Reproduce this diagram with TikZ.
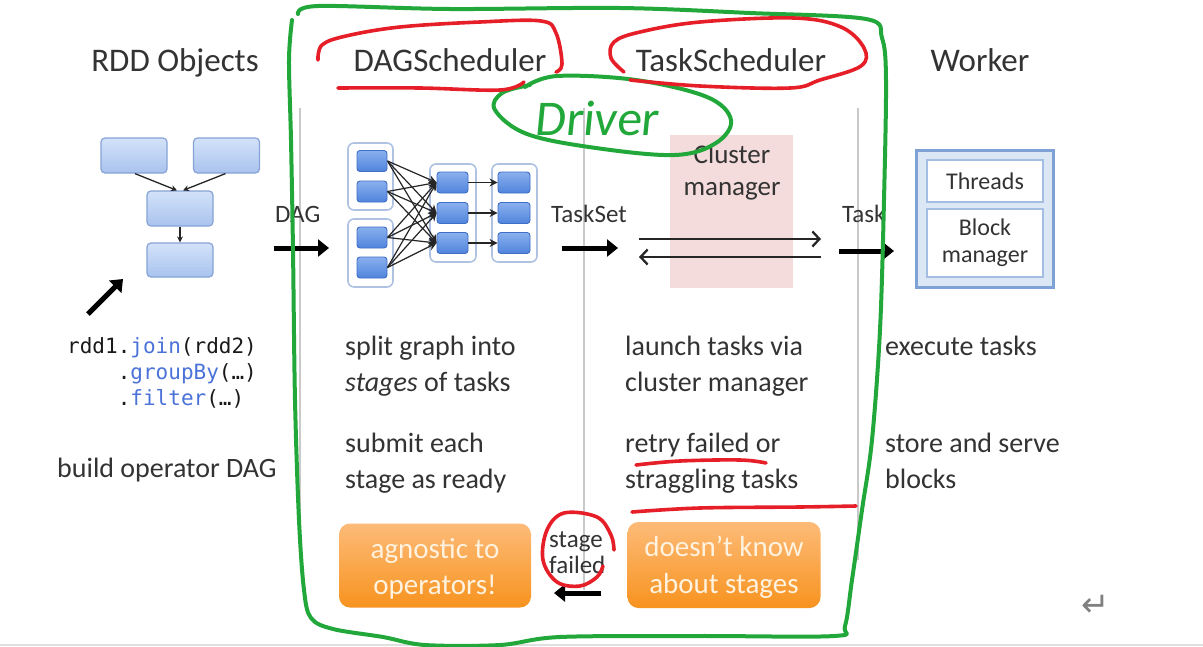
\documentclass[tikz,border=0pt]{standalone}
\usepackage{fontspec}
\setmainfont{Carlito}
\newfontfamily\codefont{DejaVu Sans Mono}
\newfontfamily\symfont{DejaVu Sans}
\usetikzlibrary{arrows.meta}
\definecolor{txt}{HTML}{333333}
\definecolor{sepgray}{HTML}{C9C9C9}
\definecolor{rddtop}{HTML}{D3E2F9}
\definecolor{rddbot}{HTML}{A9C3EE}
\definecolor{rddborder}{HTML}{86A3D6}
\definecolor{dtop}{HTML}{8AB0EE}
\definecolor{dbot}{HTML}{4F84DC}
\definecolor{dborder}{HTML}{3E6EC6}
\definecolor{grpborder}{HTML}{AFC2E2}
\definecolor{codeblue}{HTML}{4B72D9}
\definecolor{pinkbox}{HTML}{F4DCDC}
\definecolor{wfill}{HTML}{DCE7F5}
\definecolor{wborder}{HTML}{7FA2D6}
\definecolor{winner}{HTML}{A3BDE3}
\definecolor{otop}{HTML}{FDBB78}
\definecolor{obot}{HTML}{F7931F}
\definecolor{otext}{HTML}{FFF2DF}
\definecolor{gpen}{HTML}{22A83A}
\definecolor{rpen}{HTML}{E61E28}
\begin{document}
\begin{tikzpicture}[x=1pt,y=-1pt,
  title/.style={font=\fontsize{33}{38}\selectfont, text=txt, anchor=base, inner sep=0},
  body/.style={font=\fontsize{28}{32}\selectfont, text=txt, anchor=base west, inner sep=0},
  lbl/.style={font=\fontsize{25}{28}\selectfont, text=txt, anchor=base west, inner sep=0},
  code/.style={font=\codefont\fontsize{21}{24}\selectfont, text=black!90, anchor=base west, inner sep=0},
  rddbox/.style={draw=rddborder, line width=1.2, rounded corners=4, top color=rddtop, bottom color=rddbot, inner sep=0, minimum width=66, minimum height=35},
  grp/.style={draw=grpborder, line width=1.6, rounded corners=6, fill=white, inner sep=0},
  dbox/.style={draw=dborder, line width=0.9, rounded corners=3, top color=dtop, bottom color=dbot, inner sep=0, minimum width=30, minimum height=21},
  small/.style={-{Stealth[length=6,width=6]}, line width=1.3, draw=black!85},
  dagarrow/.style={-{Stealth[length=8,width=8]}, line width=1.2, draw=black!85},
  thick/.style={-{Triangle[length=11,width=17]}, line width=5, draw=black},
  thin/.style={-{Straight Barb[length=7,width=15]}, line width=2.3, draw=black!85},
  sep/.style={draw=sepgray, line width=2.5},
  obox/.style={rounded corners=11, top color=otop, bottom color=obot, inner sep=0, draw=none},
  otxt/.style={font=\fontsize{29}{34}\selectfont, text=otext, anchor=base, inner sep=0},
  gline/.style={draw=gpen, line width=4, line cap=round, line join=round},
  rline/.style={draw=rpen, line width=3.6, line cap=round, line join=round}
]
\useasboundingbox (0,0) rectangle (1203,646);
\fill[white] (0,0) rectangle (1203,646);
\draw[draw=black!12, line width=1.5] (0,645) -- (1203,645);

% titles
\node[title] (t1) at (175,71) {RDD Objects};
\node[title] (t2) at (450,71) {DAGScheduler};
\node[title] (t3) at (731,71) {TaskScheduler};
\node[title] (t4) at (980,71) {Worker};

% separators
\draw[sep] (300,108) -- (300,552);
\draw[sep] (584,108) -- (584,590);
\draw[sep] (858,108) -- (858,560);

% RDD objects
\node[rddbox] (r1) at (134,155.5) {};
\node[rddbox] (r2) at (226.5,155.5) {};
\node[rddbox] (r3) at (180,208.5) {};
\node[rddbox, minimum height=34] (r4) at (180,260) {};
\draw[small] ([xshift=1]r1.south) -- ([xshift=-3]r3.north);
\draw[small] ([xshift=-1]r2.south) -- ([xshift=3]r3.north);
\draw[small] (r3.south) -- (r4.north);
\coordinate (ba1) at (88,314);
\coordinate (ba2) at (123,279);
\draw[thick] (ba1) -- (ba2);

\node[code] (code1) at (67,353) {rdd1.\textcolor{codeblue}{join}(rdd2)};
\node[code] (code2) at (117.6,379) {.\textcolor{codeblue}{groupBy}(…)};
\node[code] (code3) at (117.6,405) {.\textcolor{codeblue}{filter}(…)};
\node[body] (bod) at (57,477) {build operator DAG};

% DAG arrow
\node[lbl] (ldag) at (275,222) {DAG};
\coordinate (da1) at (274,248);
\coordinate (da2) at (329,248);
\draw[thick] (da1) -- (da2);

% DAG scheduler figure
\node[grp, minimum width=45, minimum height=67] (g1) at (370.5,176.5) {};
\node[grp, minimum width=45, minimum height=68] (g2) at (370.5,253) {};
\node[grp, minimum width=46, minimum height=98] (g3) at (453,213) {};
\node[grp, minimum width=45, minimum height=98] (g4) at (514.5,213) {};
\node[dbox] (b1) at (372,161) {};
\node[dbox] (b2) at (372,191.5) {};
\node[dbox] (b3) at (372,237.5) {};
\node[dbox] (b4) at (372,267.5) {};
\node[dbox, minimum width=31] (c1) at (452.5,182.5) {};
\node[dbox, minimum width=31] (c2) at (452.5,213) {};
\node[dbox, minimum width=31] (c3) at (452.5,243) {};
\node[dbox, minimum width=32] (d1) at (514,182.5) {};
\node[dbox, minimum width=32] (d2) at (514,213) {};
\node[dbox, minimum width=32] (d3) at (514,243) {};
\foreach \s in {b1,b2,b3,b4}{\foreach \t in {c1,c2,c3}{\draw[dagarrow] (\s.east) -- (\t.west);}}
\draw[dagarrow] (c1.east) -- (d1.west);
\draw[dagarrow] (c2.east) -- (d2.west);
\draw[dagarrow] (c3.east) -- (d3.west);

% TaskSet arrow
\node[lbl] (lts) at (551,222) {TaskSet};
\coordinate (ts1) at (562,248);
\coordinate (ts2) at (618,248);
\draw[thick] (ts1) -- (ts2);

% cluster manager
\node[fill=pinkbox, minimum width=123, minimum height=153, inner sep=0] (cmbox) at (731.5,211.5) {};
\node[font=\fontsize{27}{30}\selectfont, text=txt, anchor=base, inner sep=0] (cm1) at (732,163) {Cluster};
\node[font=\fontsize{27}{30}\selectfont, text=txt, anchor=base, inner sep=0] (cm2) at (732,195) {manager};
\coordinate (ta1) at (639,239);
\coordinate (ta2) at (821,239);
\coordinate (ta3) at (821,257);
\coordinate (ta4) at (639,257);
\draw[thin] (ta1) -- (ta2);
\draw[thin] (ta3) -- (ta4);

% Task arrow
\node[lbl] (ltask) at (842,222) {Task};
\coordinate (tk1) at (839,251);
\coordinate (tk2) at (894,251);
\draw[thick] (tk1) -- (tk2);

% worker
\node[fill=wfill, draw=wborder, line width=3, minimum width=137, minimum height=137, inner sep=0] (wk) at (984.5,218.5) {};
\node[fill=white, draw=winner, line width=2, minimum width=116, minimum height=42, inner sep=0, font=\fontsize{24}{28}\selectfont, text=txt] (thr) at (985,181) {Threads};
\node[fill=white, draw=winner, line width=2, minimum width=116, minimum height=68, inner sep=0, font=\fontsize{24}{27}\selectfont, text=txt, align=center] (bm) at (985,243) {Block\\manager};

% body texts
\node[body] (s1) at (345,355) {split graph into};
\node[body] (s2) at (345,391) {\textit{stages} of tasks};
\node[body] (s3) at (345,452) {submit each};
\node[body] (s4) at (345,488) {stage as ready};
\node[body] (l1) at (625,355) {launch tasks via};
\node[body] (l2) at (625,391) {cluster manager};
\node[body] (l3) at (625,452) {retry failed or};
\node[body] (l4) at (625,488) {straggling tasks};
\node[body] (w1) at (885,355) {execute tasks};
\node[body] (w2) at (885,452) {store and serve};
\node[body] (w3) at (885,488) {blocks};

% orange boxes
\node[obox, minimum width=192, minimum height=84] (ob1) at (435,565.5) {};
\node[otxt] (ot1) at (435,558) {agnostic to};
\node[otxt] (ot2) at (435,594) {operators!};
\node[obox, minimum width=193, minimum height=86] (ob2) at (724,565) {};
\node[otxt] (ot3) at (724,556) {doesn’t know};
\node[otxt] (ot4) at (724,593) {about stages};

% stage failed
\node[lbl] (sf1) at (549,547) {stage};
\node[lbl] (sf2) at (549,573) {failed};
\coordinate (sa1) at (601,593);
\coordinate (sa2) at (554,593);
\draw[thick] (sa1) -- (sa2);

% return symbol
\node[font=\symfont\fontsize{34}{36}\selectfont, text=black!50, inner sep=0] (ret) at (1096,606) {↵};

% annotations
\draw[gline] plot[smooth, tension=0.55] coordinates {(292,20) (289,60) (291,140) (293,250) (295,400) (299,520) (304,590) (311,618) (333,629) (383,637) (425,645) (500,645) (560,637) (700,636) (834,636) (845,626) (852,580) (862,510) (872,440) (880,330) (884,200) (886,80) (882,38) (866,19) (750,13) (620,8) (450,9) (318,6) (298,14)};
\draw[gline] plot[smooth, tension=0.6] coordinates {(525,87) (557,76) (636,80) (707,97) (731,120) (716,143) (675,155) (596,148) (527,134) (495,110) (502,93) (530,85)};
\node[font=\fontsize{50}{54}\selectfont, text=gpen, inner sep=0, xslant=0.1] (drv) at (598,118) {Driver};

\draw[rline] plot[smooth, tension=0.6] coordinates {(318,60) (322,45) (346,36) (400,27) (480,22) (541,21) (556,33) (562,64) (556,72)};
\draw[rline] plot[smooth, tension=0.6] coordinates {(338,88) (420,88) (500,90) (524,82)};
\draw[rline] plot[smooth, tension=0.6] coordinates {(624,72) (611,58) (614,42) (640,32) (700,22) (794,18) (841,27) (864,48) (861,66) (820,80) (790,88) (700,86) (630,80)};
\draw[rline] plot[smooth, tension=0.6] coordinates {(636,465) (680,461) (740,460) (766,463)};
\draw[rline] plot[smooth, tension=0.6] coordinates {(632,512) (700,508) (800,507) (856,506)};
\draw[rline] plot[smooth, tension=0.6] coordinates {(614,550) (611,535) (597,517) (564,513) (547,530) (543,560) (557,582) (580,586) (597,577) (603,566)};
\end{tikzpicture}
\end{document}
